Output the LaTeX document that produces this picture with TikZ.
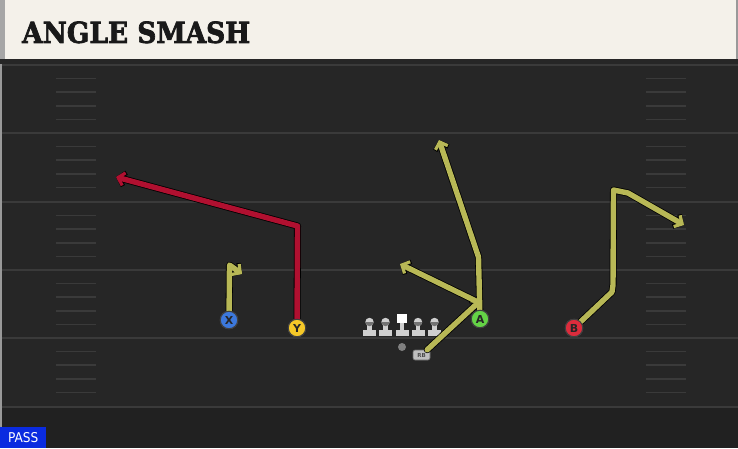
\documentclass[tikz,border=0pt]{standalone}
\usepackage{fontspec}
\setmainfont{DejaVu Sans}
\newfontfamily\titlefont{DejaVu Serif}[BoldFont={DejaVu Serif Bold}, BoldFeatures={FakeBold=2.5}]
\newfontfamily\passfont{DejaVu Sans Condensed}
\usetikzlibrary{arrows.meta}
\definecolor{fieldbg}{HTML}{262626}
\definecolor{fieldlow}{HTML}{212121}
\definecolor{fieldline}{HTML}{3A3A3A}
\definecolor{hdrcream}{HTML}{F4F1EA}
\definecolor{olive}{HTML}{B8B856}
\definecolor{routered}{HTML}{B01030}
\definecolor{pblue}{HTML}{3C78DC}
\definecolor{pyellow}{HTML}{F5C828}
\definecolor{pgreen}{HTML}{64D246}
\definecolor{pred}{HTML}{DC2C3C}
\definecolor{passblue}{HTML}{0A2BE0}
\definecolor{linegray}{HTML}{CFCFCF}
\tikzset{
  player/.style={circle, draw=black!75, line width=1pt, minimum size=17.5pt, inner sep=0pt,
    font=\bfseries\fontsize{11}{11}\selectfont, text=black!85},
  outl/.style={draw=black, line width=7pt, line join=round, line cap=round,
    -{Straight Barb[length=6pt,width=14pt,line width=4.6pt]}},
  rte/.style={draw=#1, line width=5.4pt, line join=round, line cap=round,
    -{Straight Barb[length=6pt,width=13pt,line width=3.2pt]}},
  yardln/.style={draw=fieldline, line width=2pt},
  hashln/.style={draw=fieldline, line width=1.6pt},
}
\newcommand{\lineman}[1]{%
  \fill[linegray] (#1-6.5,330) rectangle (#1+6.5,336);
  \fill[linegray] (#1-2.2,324) rectangle (#1+2.2,331);
  \fill[linegray] (#1,322) circle (4.2);
  \fill[black!55] (#1-4.2,322) arc (180:0:4.2) -- cycle;
}
\begin{document}
\begin{tikzpicture}[x=1pt,y=-1pt]
\useasboundingbox (0,0) rectangle (738,448);
% field
\fill[fieldbg] (0,0) rectangle (738,448);
\fill[fieldlow] (0,408) rectangle (738,448);
\fill[black!40] (0,59) rectangle (2,448);
% header
\fill[black!85] (0,59) rectangle (738,64);
\fill[hdrcream] (0,0) rectangle (736,59);
\fill[black!35] (0,0) rectangle (5,59);
\fill[black!40] (736,0) rectangle (738,59);
\node[anchor=south west, inner sep=0pt, text=black!90] (title) at (22,43.5)
  {\resizebox{228pt}{21.5pt}{\titlefont\bfseries ANGLE SMASH}};
% yard lines and hashes
\foreach \yy in {65,133,202,270,338,407}{
  \draw[yardln] (2,\yy) -- (738,\yy);
}
\foreach \yy in {65,133,202,270,338}{
  \foreach \k in {1,2,3,4}{
    \draw[hashln] (56,\yy+13.6*\k) -- (96,\yy+13.6*\k);
    \draw[hashln] (646,\yy+13.6*\k) -- (686,\yy+13.6*\k);
  }
}
% players
\node[player, fill=pblue] (X) at (229,320) {X};
\node[player, fill=pyellow] (Y) at (297,328) {Y};
\node[player, fill=pgreen] (A) at (480,319) {A};
\node[player, fill=pred] (B) at (574,328) {B};
\node[circle, fill=black!50, minimum size=8pt, inner sep=0pt] (QB) at (402,347) {};
\node[rounded corners=2pt, fill=black!25, draw=black!60, line width=0.6pt, minimum width=17pt,
  minimum height=10pt, inner sep=0pt, font=\bfseries\fontsize{5.5}{5.5}\selectfont, text=black!70] (RB) at (421.5,355) {RB};
% line
\lineman{369.5}
\lineman{385.5}
\lineman{418}
\lineman{434.5}
\fill[linegray] (395.5,330) rectangle (408.5,336);
\fill[linegray] (399.8,322) rectangle (404.2,331);
\fill[white] (397,314) rectangle (407,323);
% route points
\coordinate (xc) at (229.5,265);
\coordinate (xe) at (242,274);
\coordinate (yc) at (297.5,226);
\coordinate (ye) at (116,177);
\coordinate (ac) at (478.5,257);
\coordinate (ae) at (439,140);
\coordinate (ab) at (478,302);
\coordinate (abe) at (400,264);
\coordinate (rbe) at (481,300);
\coordinate (b1) at (612,292);
\coordinate (b2) at (613,285);
\coordinate (b3) at (613.5,190);
\coordinate (b4) at (628,193);
\coordinate (be) at (684,225);
% routes: outlines
\draw[outl] (X) -- (xc) -- (xe);
\draw[outl] (Y) -- (yc) -- (ye);
\draw[outl] (A) -- (ac) -- (ae);
\draw[outl] (ab) -- (abe);
\draw[outl] (RB) -- (rbe);
\draw[outl] (B) -- (b1) -- (b2) -- (b3) -- (b4) -- (be);
% routes: colour
\draw[rte=olive] (X) -- (xc) -- (xe);
\draw[rte=routered] (Y) -- (yc) -- (ye);
\draw[rte=olive] (A) -- (ac) -- (ae);
\draw[rte=olive] (ab) -- (abe);
\draw[rte=olive] (RB) -- (rbe);
\draw[rte=olive] (B) -- (b1) -- (b2) -- (b3) -- (b4) -- (be);
% redraw players on top
\node[player, fill=pblue] at (X) {X};
\node[player, fill=pyellow] at (Y) {Y};
\node[player, fill=pgreen] at (A) {A};
\node[player, fill=pred] at (B) {B};
% pass tag
\node[fill=passblue, anchor=south west, minimum width=46pt, minimum height=21pt, inner sep=0pt,
  text=white, font=\passfont\fontsize{13.5}{13.5}\selectfont] (pass) at (0,448) {PASS};
\end{tikzpicture}
\end{document}
